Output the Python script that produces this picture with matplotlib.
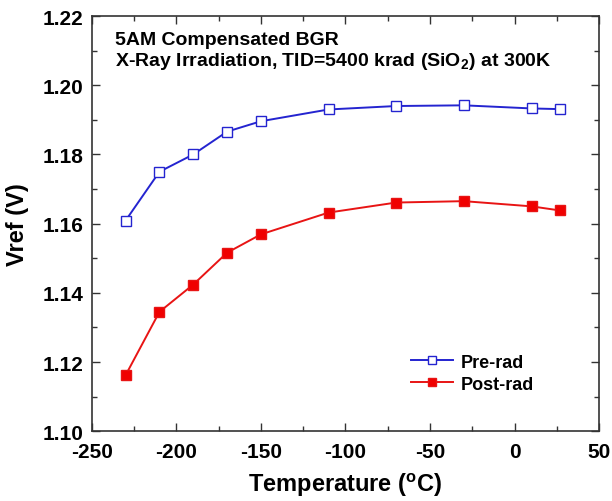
import matplotlib
matplotlib.use("Agg")
import matplotlib.pyplot as plt
from matplotlib.ticker import MultipleLocator

temps = [-230, -210, -190, -170, -150, -110, -70, -30, 10, 27]
pre_rad = [1.1609, 1.1750, 1.1800, 1.1866, 1.1896, 1.1930, 1.1940, 1.1942, 1.1933, 1.1931]
post_rad = [1.1162, 1.1345, 1.1424, 1.1516, 1.1569, 1.1632, 1.1661, 1.1665, 1.1650, 1.1638]

plt.rcParams['font.family'] = ['Liberation Sans', 'DejaVu Sans']
plt.rcParams['font.weight'] = 'bold'
plt.rcParams['axes.unicode_minus'] = False
plt.rcParams['mathtext.fontset'] = 'custom'
plt.rcParams['mathtext.rm'] = 'Liberation Sans:bold'
plt.rcParams['mathtext.bf'] = 'Liberation Sans:bold'

fig = plt.figure(figsize=(6.12, 5.02), dpi=100)
ax = fig.add_axes([0.150, 0.139, 0.829, 0.827])

blue = '#2424d0'
red = '#e81414'
ax.plot(temps, pre_rad, color=blue, lw=1.4, marker='s', ms=7.5,
        mfc='white', mec=blue, mew=1.0, label='Pre-rad')
ax.plot(temps, post_rad, color=red, lw=1.4, marker='s', ms=7.5,
        mfc='#f00000', mec=red, label='Post-rad')

ax.set_xlim(-250, 50)
ax.set_ylim(1.10, 1.22)
ax.xaxis.set_major_locator(MultipleLocator(50))
ax.xaxis.set_minor_locator(MultipleLocator(25))
ax.yaxis.set_major_locator(MultipleLocator(0.02))
ax.yaxis.set_minor_locator(MultipleLocator(0.01))
ax.yaxis.set_major_formatter(plt.FormatStrFormatter('%.2f'))
ax.tick_params(which='both', direction='in', top=True, right=True,
               labelsize=15, width=1.0, color='#333333')
ax.tick_params(which='major', length=6)
ax.tick_params(which='minor', length=3.5)
ax.tick_params(axis='x', pad=8)
ax.tick_params(axis='y', pad=6)
for s in ax.spines.values():
    s.set_linewidth(1.2)
    s.set_color('#333333')

ax.set_xlabel('Temperature ($^{\\mathrm{o}}$C)', fontsize=17, fontweight='bold', labelpad=6)
ax.set_ylabel('Vref (V)', fontsize=17, fontweight='bold', labelpad=10)

# header text
ax.text(0.045, 0.944, '5AM Compensated BGR', transform=ax.transAxes,
        fontsize=14, fontfamily='Liberation Sans', fontweight='heavy', va='center')
ax.text(0.045, 0.893, 'X-Ray Irradiation, TID=5400 krad (SiO$_\\mathrm{2}$) at 300K',
        transform=ax.transAxes, fontsize=14, fontfamily='Liberation Sans',
        fontweight='heavy', va='center')

leg = ax.legend(loc='upper left', bbox_to_anchor=(0.598, 0.226), frameon=False,
                fontsize=13, handlelength=2.3, markerscale=0.7,
                handletextpad=0.45, labelspacing=0.28)

fig.savefig('out.png', dpi=100)
